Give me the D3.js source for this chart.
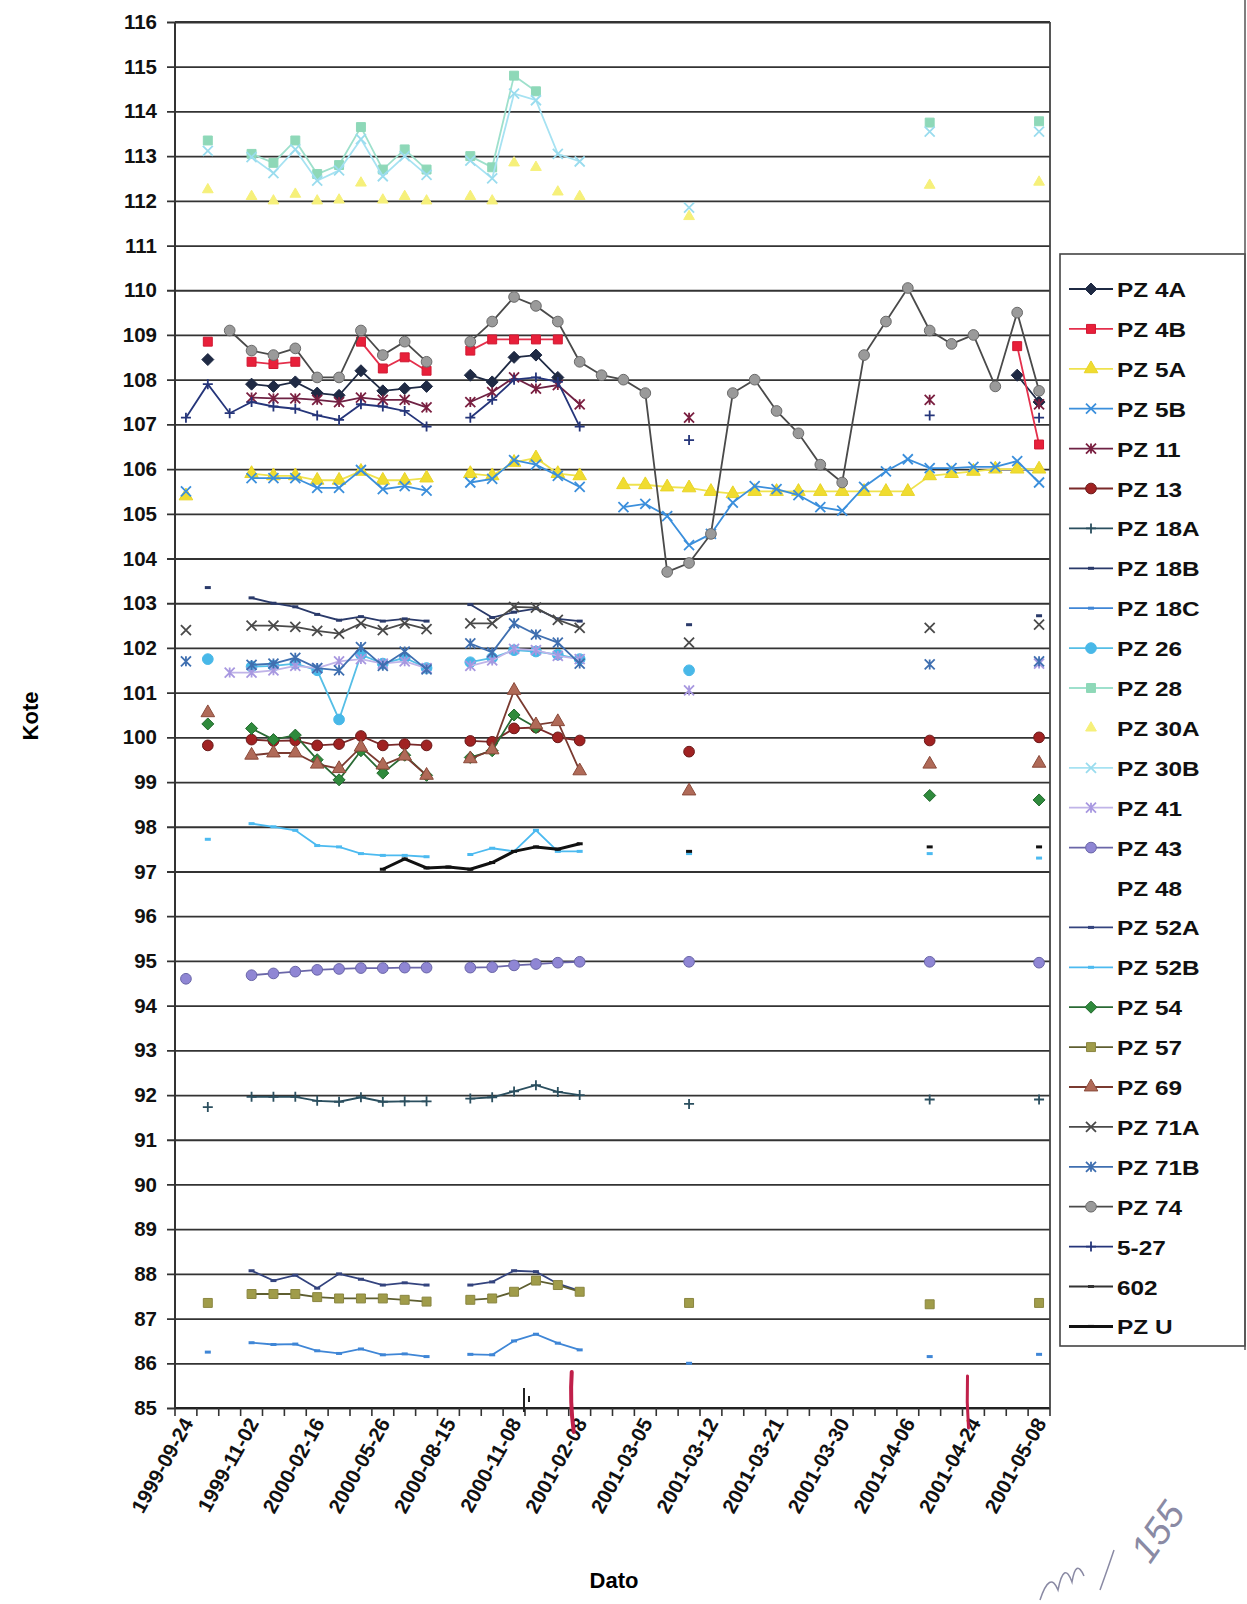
<!DOCTYPE html>
<html>
<head>
<meta charset="utf-8">
<script src="https://cdn.jsdelivr.net/npm/d3@7"></script>
<style>
  body { margin: 0; background: #fff; }
  text { font-family: "Liberation Sans", Arial, sans-serif; }
</style>
</head>
<body>
<div id="chart"></div>
<script>
// values, one entry per category (40 dates, only every 3rd labelled)
const _ = null;
const tickLabels = ["1999-09-24","1999-11-02","2000-02-16","2000-05-26","2000-08-15","2000-11-08",
  "2001-02-08","2001-03-05","2001-03-12","2001-03-21","2001-03-30","2001-04-06","2001-04-24","2001-05-08"];
const yTicks = d3.range(85, 117);

const pz4A = [_,108.45,_,107.9,107.85,107.95,107.7,107.65,108.2,107.75,
  107.8,107.85,_,108.1,107.95,108.5,108.55,108.05,_,_,
  _,_,_,_,_,_,_,_,_,_,
  _,_,_,_,_,_,_,_,108.1,107.5];
const pz4B = [_,108.85,_,108.4,108.35,108.4,_,_,108.85,108.25,
  108.5,108.2,_,108.65,108.9,108.9,108.9,108.9,_,_,
  _,_,_,_,_,_,_,_,_,_,
  _,_,_,_,_,_,_,_,108.75,106.55];
const pz5A = [105.4,_,_,105.9,105.85,105.85,105.75,105.75,105.95,105.75,
  105.75,105.8,_,105.9,105.85,106.15,106.25,105.9,105.85,_,
  105.65,105.65,105.6,105.58,105.5,105.45,105.5,105.5,105.5,105.5,
  105.5,105.5,105.5,105.5,105.85,105.9,105.95,106.0,106.0,106.0];
const pz5B = [105.5,_,_,105.8,105.8,105.8,105.58,105.58,105.98,105.55,
  105.62,105.52,_,105.7,105.78,106.2,106.1,105.85,105.6,_,
  105.15,105.22,104.95,104.3,104.55,105.25,105.62,105.55,105.42,105.15,
  105.07,105.6,105.95,106.22,106.02,106.02,106.05,106.05,106.18,105.7];
const pz11 = [_,_,_,107.6,107.58,107.58,107.55,107.5,107.6,107.55,
  107.55,107.38,_,107.5,107.72,108.05,107.8,107.88,107.45,_,
  _,_,_,107.15,_,_,_,_,_,_,
  _,_,_,_,107.55,_,_,_,_,107.45];
const pz13 = [_,99.82,_,99.95,99.92,99.93,99.82,99.85,100.03,99.82,
  99.85,99.82,_,99.92,99.9,100.2,100.22,100.0,99.93,_,
  _,_,_,99.68,_,_,_,_,_,_,
  _,_,_,_,99.93,_,_,_,_,100.0];
const pz18A = [_,91.73,_,91.96,91.96,91.96,91.87,91.85,91.95,91.85,
  91.86,91.86,_,91.92,91.95,92.08,92.22,92.07,92.0,_,
  _,_,_,91.8,_,_,_,_,_,_,
  _,_,_,_,91.9,_,_,_,_,91.9];
const pz18B = [_,103.35,_,103.12,103.0,102.92,102.75,102.62,102.7,102.6,
  102.65,102.6,_,102.97,102.68,102.8,102.88,102.65,102.6,_,
  _,_,_,102.52,_,_,_,_,_,_,
  _,_,_,_,_,_,_,_,_,102.72];
const pz18C = [_,86.25,_,86.46,86.42,86.43,86.28,86.22,86.32,86.19,
  86.21,86.15,_,86.2,86.19,86.5,86.65,86.45,86.3,_,
  _,_,_,86.0,_,_,_,_,_,_,
  _,_,_,_,86.15,_,_,_,_,86.2];
const pz26 = [_,101.75,_,101.58,101.6,101.65,101.5,100.4,101.85,101.65,
  101.78,101.55,_,101.68,101.78,101.95,101.92,101.85,101.75,_,
  _,_,_,101.5,_,_,_,_,_,_,
  _,_,_,_,_,_,_,_,_,_];
const pz28 = [_,113.35,_,113.05,112.85,113.35,112.6,112.8,113.65,112.7,
  113.15,112.7,_,113.0,112.75,114.8,114.45,_,_,_,
  _,_,_,_,_,_,_,_,_,_,
  _,_,_,_,113.75,_,_,_,_,113.78];
const pz30A = [_,112.25,_,112.1,112.0,112.15,112.0,112.02,112.4,112.02,
  112.1,112.0,_,112.1,112.0,112.85,112.75,112.2,112.1,_,
  _,_,_,111.65,_,_,_,_,_,_,
  _,_,_,_,112.35,_,_,_,_,112.42];
const pz30B = [_,113.12,_,112.98,112.62,113.15,112.45,112.68,113.38,112.55,
  113.0,112.58,_,112.9,112.5,114.4,114.25,113.05,112.88,_,
  _,_,_,111.85,_,_,_,_,_,_,
  _,_,_,_,113.55,_,_,_,_,113.55];
const pz41 = [_,_,101.45,101.45,101.5,101.6,101.55,101.7,101.75,101.65,
  101.7,101.55,_,101.6,101.72,101.98,101.95,101.82,101.75,_,
  _,_,_,101.05,_,_,_,_,_,_,
  _,_,_,_,_,_,_,_,_,101.65];
const pz43 = [94.6,_,_,94.68,94.72,94.76,94.8,94.82,94.84,94.84,
  94.85,94.85,_,94.85,94.86,94.9,94.93,94.96,94.98,_,
  _,_,_,94.98,_,_,_,_,_,_,
  _,_,_,_,94.98,_,_,_,_,94.96];
const pz48 = [];
const pz52A = [_,_,_,88.07,87.85,87.97,87.68,88.0,87.88,87.75,
  87.8,87.75,_,87.75,87.82,88.07,88.05,87.78,87.62,_,
  _,_,_,_,_,_,_,_,_,_,
  _,_,_,_,_,_,_,_,_,_];
const pz52B = [_,97.72,_,98.07,98.0,97.92,97.58,97.55,97.4,97.36,
  97.36,97.33,_,97.38,97.52,97.45,97.92,97.45,97.45,_,
  _,_,_,97.4,_,_,_,_,_,_,
  _,_,_,_,97.4,_,_,_,_,97.3];
const pz54 = [_,100.3,_,100.2,99.95,100.05,99.5,99.05,99.7,99.2,
  99.6,99.15,_,99.55,99.7,100.5,100.22,_,_,_,
  _,_,_,_,_,_,_,_,_,_,
  _,_,_,_,98.7,_,_,_,_,98.6];
const pz57 = [_,87.35,_,87.55,87.55,87.55,87.48,87.45,87.45,87.45,
  87.42,87.38,_,87.42,87.45,87.6,87.85,87.75,87.6,_,
  _,_,_,87.35,_,_,_,_,_,_,
  _,_,_,_,87.32,_,_,_,_,87.35];
const pz69 = [_,100.55,_,99.6,99.65,99.65,99.4,99.3,99.78,99.38,
  99.58,99.15,_,99.52,99.72,101.05,100.28,100.35,99.25,_,
  _,_,_,98.8,_,_,_,_,_,_,
  _,_,_,_,99.4,_,_,_,_,99.42];
const pz71A = [102.4,_,_,102.5,102.5,102.47,102.38,102.32,102.55,102.4,
  102.55,102.42,_,102.55,102.55,102.92,102.9,102.63,102.45,_,
  _,_,_,102.12,_,_,_,_,_,_,
  _,_,_,_,102.45,_,_,_,_,102.52];
const pz71B = [101.7,_,_,101.62,101.65,101.78,101.55,101.5,102.02,101.6,
  101.92,101.52,_,102.1,101.9,102.55,102.3,102.12,101.65,_,
  _,_,_,_,_,_,_,_,_,_,
  _,_,_,_,101.63,_,_,_,_,101.7];
const pz74 = [_,_,109.1,108.65,108.55,108.7,108.05,108.05,109.1,108.55,
  108.85,108.4,_,108.85,109.3,109.85,109.65,109.3,108.4,108.1,
  108.0,107.7,103.7,103.9,104.55,107.7,108.0,107.3,106.8,106.1,
  105.7,108.55,109.3,110.05,109.1,108.8,109.0,107.85,109.5,107.75];
const pz527 = [107.15,107.9,107.25,107.5,107.4,107.35,107.2,107.1,107.45,107.4,
  107.3,106.95,_,107.15,107.55,108.0,108.05,107.95,106.95,_,
  _,_,_,106.65,_,_,_,_,_,_,
  _,_,_,_,107.2,_,_,_,_,107.15];
const pz602 = [];
const pzU = [_,_,_,_,_,_,_,_,_,97.05,
  97.28,97.08,97.1,97.05,97.2,97.45,97.55,97.5,97.62,_,
  _,_,_,97.45,_,_,_,_,_,_,
  _,_,_,_,97.55,_,_,_,_,97.55];

const nCat = 40;
const series = [
  {name: "PZ 4A",  data: pz4A,  line: "#1f2a44", fill: "#1f2a44", edge: "#1f2a44", mark: "diamond"},
  {name: "PZ 4B",  data: pz4B,  line: "#e4304c", fill: "#e8203a", edge: "#d01832", mark: "square"},
  {name: "PZ 5A",  data: pz5A,  line: "#efe24e", fill: "#f0dc30", edge: "#e8d428", mark: "triangle"},
  {name: "PZ 5B",  data: pz5B,  line: "#3b8fdc", fill: "none",    edge: "#3b8fdc", mark: "x"},
  {name: "PZ 11",  data: pz11,  line: "#6e2244", fill: "none",    edge: "#7a1f40", mark: "star"},
  {name: "PZ 13",  data: pz13,  line: "#7a2a2a", fill: "#a02222", edge: "#6a1a1a", mark: "circle"},
  {name: "PZ 18A", data: pz18A, line: "#2b4f5f", fill: "none",    edge: "#2b4f5f", mark: "plus"},
  {name: "PZ 18B", data: pz18B, line: "#2a3a6a", fill: "none",    edge: "#2a3a6a", mark: "dash"},
  {name: "PZ 18C", data: pz18C, line: "#3f86d6", fill: "none",    edge: "#3f86d6", mark: "dash"},
  {name: "PZ 26",  data: pz26,  line: "#55bee6", fill: "#48b8e8", edge: "#48b8e8", mark: "circle"},
  {name: "PZ 28",  data: pz28,  line: "#9ee0cc", fill: "#8ed8b8", edge: "#8ed8b8", mark: "square"},
  {name: "PZ 30A", data: pz30A, line: null,      fill: "#f6f07a", edge: "#f6f07a", mark: "smalltri"},
  {name: "PZ 30B", data: pz30B, line: "#a6e2f2", fill: "none",    edge: "#9adcee", mark: "x"},
  {name: "PZ 41",  data: pz41,  line: "#c0b4e8", fill: "none",    edge: "#a898e0", mark: "star"},
  {name: "PZ 43",  data: pz43,  line: "#6a66a8", fill: "#8f86d4", edge: "#6a66a8", mark: "circle"},
  {name: "PZ 48",  data: pz48,  line: null,      fill: "none",    edge: "none",    mark: null},
  {name: "PZ 52A", data: pz52A, line: "#34447e", fill: "none",    edge: "#34447e", mark: "dash"},
  {name: "PZ 52B", data: pz52B, line: "#4cbaf0", fill: "none",    edge: "#4cbaf0", mark: "dash"},
  {name: "PZ 54",  data: pz54,  line: "#2a6a34", fill: "#2f8a3c", edge: "#226a2e", mark: "diamond"},
  {name: "PZ 57",  data: pz57,  line: "#5e5e30", fill: "#a09c4a", edge: "#8a8640", mark: "square"},
  {name: "PZ 69",  data: pz69,  line: "#7a3a30", fill: "#b06a58", edge: "#8a4a3a", mark: "triangle"},
  {name: "PZ 71A", data: pz71A, line: "#4a4a4a", fill: "none",    edge: "#4a4a4a", mark: "x"},
  {name: "PZ 71B", data: pz71B, line: "#3f6fb0", fill: "none",    edge: "#3f6fb0", mark: "star"},
  {name: "PZ 74",  data: pz74,  line: "#4a4a4a", fill: "#9a9a9a", edge: "#6a6a6a", mark: "circle"},
  {name: "5-27",   data: pz527, line: "#25357a", fill: "none",    edge: "#25357a", mark: "plus"},
  {name: "602",    data: pz602, line: "#333333", fill: "none",    edge: "#333333", mark: "dash"},
  {name: "PZ U",   data: pzU,   line: "#111111", fill: "none",    edge: "#111111", mark: "dash", width: 3}
];

function drawChart() {
  var W = 1247, H = 1604;
  var pLeft = 175, pRight = 1050, pTop = 22, pBottom = 1408;

  var svg = d3.select("#chart").append("svg")
    .attr("width", W).attr("height", H);

  var x = d3.scaleBand().domain(d3.range(nCat)).range([pLeft, pRight]).padding(0);
  var y = d3.scaleLinear().domain([85, 116]).range([pBottom, pTop]);
  var cx = function(i) { return x(i) + x.bandwidth() / 2; };

  // gridlines + y axis
  var yAxis = d3.axisLeft(y).tickValues(yTicks).tickSize(0).tickFormat(d3.format("d"));
  var gy = svg.append("g").attr("transform", "translate(" + (pLeft - 8) + ",0)").call(yAxis);
  gy.select(".domain").remove();
  gy.selectAll(".tick line").attr("x1", 0).attr("x2", pRight - pLeft + 8)
    .attr("stroke", "#333").attr("stroke-width", 1.8);
  gy.selectAll("text").attr("x", -10).attr("font-size", 20.5).attr("font-weight", "bold")
    .attr("fill", "#111").attr("font-family", "Liberation Sans, Arial, sans-serif");

  // x axis with ticks between categories
  svg.append("line").attr("x1", pLeft).attr("x2", pRight).attr("y1", pBottom).attr("y2", pBottom)
    .attr("stroke", "#222").attr("stroke-width", 2);
  svg.selectAll(".xt").data(d3.range(nCat + 1)).enter().append("line")
    .attr("x1", function(d) { return pLeft + d * x.bandwidth(); })
    .attr("x2", function(d) { return pLeft + d * x.bandwidth(); })
    .attr("y1", pBottom).attr("y2", pBottom + 8)
    .attr("stroke", "#333").attr("stroke-width", 1.6);

  // plot frame
  svg.append("line").attr("x1", pLeft).attr("x2", pLeft).attr("y1", pTop).attr("y2", pBottom)
    .attr("stroke", "#333").attr("stroke-width", 2);
  svg.append("line").attr("x1", pLeft).attr("x2", pRight).attr("y1", pTop).attr("y2", pTop)
    .attr("stroke", "#333").attr("stroke-width", 2);
  svg.append("line").attr("x1", pRight).attr("x2", pRight).attr("y1", pTop).attr("y2", pBottom)
    .attr("stroke", "#444").attr("stroke-width", 1.8);

  // category labels, every 3rd category
  svg.selectAll(".xl").data(tickLabels).enter().append("text")
    .attr("transform", function(d, k) { return "translate(" + (cx(k * 3) + 8) + "," + (pBottom + 15) + ") rotate(-61)"; })
    .attr("text-anchor", "end")
    .attr("font-size", 20.5).attr("font-weight", "bold").attr("fill", "#111")
    .text(function(d) { return d; });

  // axis titles
  svg.append("text").attr("transform", "translate(38,716) rotate(-90)")
    .attr("text-anchor", "middle").attr("font-size", 22).attr("font-weight", "bold").text("Kote");
  svg.append("text").attr("x", 614).attr("y", 1588)
    .attr("text-anchor", "middle").attr("font-size", 22).attr("font-weight", "bold").text("Dato");

  function markerPath(type, s) {
    if (type == "x") return "M" + (-s) + "," + (-s) + "L" + s + "," + s + "M" + (-s) + "," + s + "L" + s + "," + (-s);
    if (type == "star") return "M" + (-s) + "," + (-s) + "L" + s + "," + s + "M" + (-s) + "," + s + "L" + s + "," + (-s) + "M0," + (-s) + "V" + s;
    if (type == "plus") return "M" + (-s) + ",0H" + s + "M0," + (-s) + "V" + s;
    if (type == "dash") return "M" + (-s * 0.6) + ",0H" + (s * 0.6);
    if (type == "diamond") return "M0," + (-s - 1) + "L" + (s + 1) + ",0L0," + (s + 1) + "L" + (-s - 1) + ",0Z";
    if (type == "smalltri") return d3.symbol().type(d3.symbolTriangle).size(50)();
    var sym = {square: d3.symbolSquare, triangle: d3.symbolTriangle, circle: d3.symbolCircle}[type];
    var area = {square: 80, triangle: 80, circle: 90}[type];
    return d3.symbol().type(sym).size(area)();
  }
  var strokeMarks = ["x", "star", "plus", "dash"];

  function drawMarker(g, s, px, py) {
    if (!s.mark) return;
    var open = strokeMarks.indexOf(s.mark) >= 0;
    g.append("path").attr("d", markerPath(s.mark, 5))
      .attr("transform", "translate(" + px + "," + py + ")")
      .attr("fill", open ? "none" : s.fill)
      .attr("stroke", s.edge)
      .attr("stroke-width", open ? (s.mark == "dash" ? 3 : 1.8) : 1);
  }

  var lineGen = d3.line()
    .defined(function(d) { return d.v != null; })
    .x(function(d) { return cx(d.i); })
    .y(function(d) { return y(d.v); });

  var plot = svg.append("g");
  series.forEach(function(s) {
    var pts = s.data.map(function(v, i) { return {i: i, v: v}; });
    if (s.line) {
      plot.append("path").datum(pts).attr("d", lineGen)
        .attr("fill", "none").attr("stroke", s.line).attr("stroke-width", s.width || 1.8);
    }
    var g = plot.append("g");
    pts.filter(function(d) { return d.v != null; }).forEach(function(d) {
      drawMarker(g, s, cx(d.i), y(d.v));
    });
  });

  // legend
  var lg = svg.append("g");
  lg.append("rect").attr("x", 1060).attr("y", 254).attr("width", 185).attr("height", 1092)
    .attr("fill", "#fff").attr("stroke", "#444").attr("stroke-width", 1.6);
  series.forEach(function(s, k) {
    var ly = 289 + k * 39.9;
    if (s.line) lg.append("line").attr("x1", 1069).attr("x2", 1113).attr("y1", ly).attr("y2", ly)
      .attr("stroke", s.line).attr("stroke-width", s.width || 1.8);
    drawMarker(lg, s, 1091, ly);
    lg.append("text").attr("transform", "translate(1117," + (ly + 8) + ") scale(1.16,1)")
      .attr("font-size", 21).attr("font-weight", "bold").attr("fill", "#111").text(s.name);
  });

  // page edge at the right of the scan
  svg.append("line").attr("x1", 1245).attr("x2", 1245).attr("y1", 0).attr("y2", 1350)
    .attr("stroke", "#555").attr("stroke-width", 1.5);

  // hand-drawn marks on the printout
  svg.append("path").attr("d", "M" + (x(18) + 3) + "," + (pBottom - 36) + "q-2,30 2,60")
    .attr("stroke", "#c0204a").attr("stroke-width", 4).attr("fill", "none").attr("stroke-linecap", "round");
  svg.append("path").attr("d", "M" + (x(36) + 5) + "," + (pBottom - 32) + "q-1,26 1,52")
    .attr("stroke", "#c0204a").attr("stroke-width", 3).attr("fill", "none").attr("stroke-linecap", "round");
  svg.append("path").attr("d", "M" + (x(16) - 1) + "," + (pBottom - 20) + "V" + (pBottom + 4) +
      "M" + (x(16) + 4) + "," + (pBottom - 12) + "v6")
    .attr("stroke", "#222").attr("stroke-width", 2).attr("fill", "none");
  svg.append("text").attr("transform", "translate(1150,1565) rotate(-55)")
    .attr("font-size", 38).attr("font-style", "italic").attr("fill", "#8a8aa4")
    .attr("font-family", "DejaVu Sans").text("155");
  svg.append("path").attr("d", "M1040,1600 q10,-30 18,-10 q6,-30 14,-8 q4,-24 12,-6 M1100,1590 q8,-22 14,-40")
    .attr("stroke", "#8a8aa4").attr("stroke-width", 1.5).attr("fill", "none");
}

drawChart();
</script>
</body>
</html>
